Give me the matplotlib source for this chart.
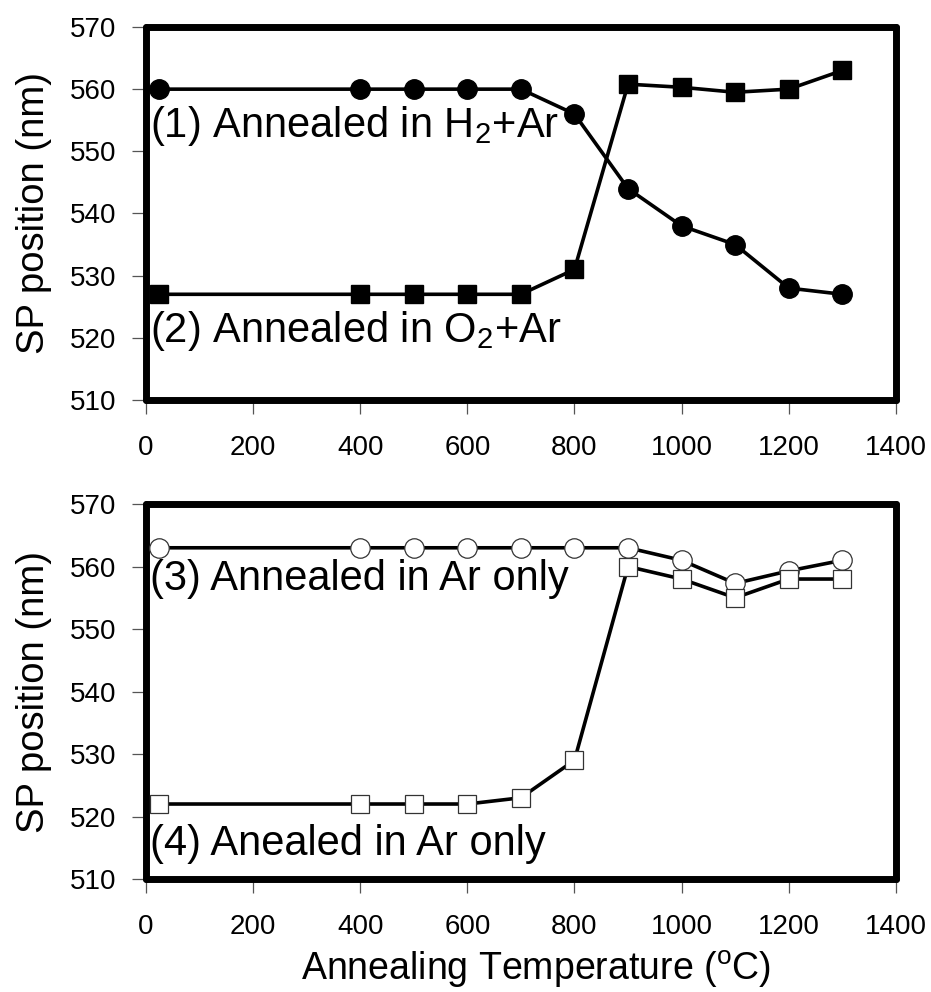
import matplotlib
matplotlib.use("Agg")
import matplotlib.pyplot as plt

matplotlib.rcParams['font.family'] = ['Liberation Sans', 'DejaVu Sans']
matplotlib.rcParams['mathtext.fontset'] = 'custom'
matplotlib.rcParams['mathtext.rm'] = 'Liberation Sans'
matplotlib.rcParams['mathtext.it'] = 'Liberation Sans'

# annealing temperatures (deg C)
temps = [25, 400, 500, 600, 700, 800, 900, 1000, 1100, 1200, 1300]

# top panel
h2_ar = [560, 560, 560, 560, 560, 556, 544, 538, 535, 528, 527]
o2_ar = [527, 527, 527, 527, 527, 531, 560.8, 560.3, 559.5, 560, 563]

# bottom panel
ar_only_3 = [563, 563, 563, 563, 563, 563, 563, 561, 557.3, 559.3, 561]
ar_only_4 = [522, 522, 522, 522, 523, 529, 560, 558, 555, 558, 558]

labels_top = [r'(1) Annealed in H$_2$+Ar', r'(2) Annealed in O$_2$+Ar']
labels_bot = ['(3) Annealed in Ar only', '(4) Anealed in Ar only']

xticks = [0, 200, 400, 600, 800, 1000, 1200, 1400]
yticks = [510, 520, 530, 540, 550, 560, 570]


def style_axes(ax):
    ax.set_xlim(0, 1400)
    ax.set_ylim(510, 570)
    ax.set_xticks(xticks)
    ax.set_yticks(yticks)
    for sp in ax.spines.values():
        sp.set_linewidth(5)
        sp.set_color('black')
        sp.set_capstyle('round')
    ax.tick_params(axis='both', direction='out', length=10, width=0.9,
                   color='#555555', labelsize=20)
    ax.tick_params(axis='x', pad=15)
    ax.tick_params(axis='y', pad=11)
    ax.set_ylabel('SP position (nm)', fontsize=27.5, labelpad=13)


fig = plt.figure(figsize=(9.31, 9.92), dpi=100)
ax1 = fig.add_axes([0.1567, 0.5968, 0.8056, 0.376])
ax2 = fig.add_axes([0.1567, 0.1139, 0.8056, 0.378])

line_kw = dict(color='black', linewidth=2.6, clip_on=False, zorder=3)

ax1.plot(temps, h2_ar, marker='o', markersize=14, markerfacecolor='black',
         markeredgecolor='black', **line_kw)
ax1.plot(temps, o2_ar, marker='s', markersize=12.5, markerfacecolor='black',
         markeredgecolor='black', **line_kw)
ax1.text(8, 552.3, labels_top[0], fontsize=30, va='baseline', ha='left')
ax1.text(8, 519.3, labels_top[1], fontsize=30, va='baseline', ha='left')
style_axes(ax1)

ax2.plot(temps, ar_only_3, marker='o', markersize=14, markerfacecolor='white',
         markeredgecolor='#333333', markeredgewidth=0.9, **line_kw)
ax2.plot(temps, ar_only_4, marker='s', markersize=12.5, markerfacecolor='white',
         markeredgecolor='#333333', markeredgewidth=0.9, **line_kw)
ax2.text(8, 556.2, labels_bot[0], fontsize=30, va='baseline', ha='left')
ax2.text(8, 513.8, labels_bot[1], fontsize=30, va='baseline', ha='left')
style_axes(ax2)
ax2.set_xlabel(r'Annealing Temperature ($^\mathrm{o}$C)', fontsize=27)
ax2.xaxis.set_label_coords(0.52, -0.185)

fig.savefig('out.png', dpi=100)
